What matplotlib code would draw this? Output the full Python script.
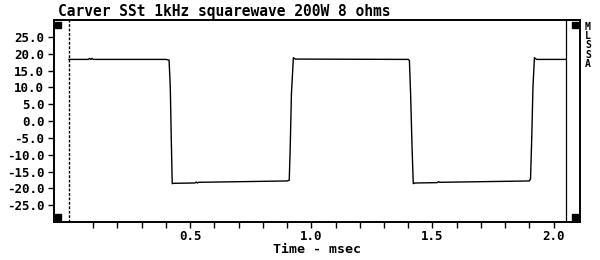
import matplotlib.pyplot as plt
from matplotlib.ticker import FormatStrFormatter

# waveform breakpoints (msec, volts)
t_ms = [0.000, 0.080, 0.085, 0.090, 0.095, 0.100, 0.400, 0.413, 0.418,
        0.422, 0.426, 0.432, 0.520, 0.525, 0.530, 0.535, 0.900, 0.909,
        0.913, 0.918, 0.926, 0.934, 1.400, 1.405, 1.410, 1.416, 1.421,
        1.428, 1.520, 1.525, 1.530, 1.900, 1.905, 1.910, 1.915, 1.921,
        1.930, 2.050]
volts = [18.3, 18.3, 18.6, 18.3, 18.6, 18.3, 18.3, 18.1, 10.0,
         -5.0, -18.6, -18.5, -18.4, -18.1, -18.4, -18.2, -17.8, -17.6,
         -8.0, 8.0, 18.8, 18.4, 18.3, 18.0, 8.0, -8.0, -18.6,
         -18.4, -18.3, -18.0, -18.2, -17.8, -17.2, -5.0, 10.0, 18.8,
         18.3, 18.3]

y_ticks = [-25, -20, -15, -10, -5, 0, 5, 10, 15, 20, 25]
x_ticks = [0.5, 1.0, 1.5, 2.0]
x_minor = [0.1, 0.2, 0.3, 0.4, 0.6, 0.7, 0.8, 0.9, 1.1, 1.2, 1.3, 1.4,
           1.6, 1.7, 1.8, 1.9]
cursor_start = 0.0
cursor_end = 2.05

fig = plt.figure(figsize=(6, 2.6), dpi=100)
ax = fig.add_axes([0.09, 0.146, 0.877, 0.777])

ax.plot(t_ms, volts, color='black', linewidth=1.0)
ax.axvline(cursor_start, color='black', linewidth=1.0, linestyle=(0, (2, 1.2)))
ax.axvline(cursor_end, color='black', linewidth=0.9)

ax.set_xlim(-0.062, 2.11)
ax.set_ylim(-30, 30)

ax.set_yticks(y_ticks)
ax.yaxis.set_major_formatter(FormatStrFormatter('%.1f'))
ax.set_xticks(x_ticks)
ax.set_xticks(x_minor, minor=True)
ax.xaxis.set_major_formatter(FormatStrFormatter('%.1f'))

mono = 'DejaVu Sans Mono'
ax.tick_params(axis='both', which='both', direction='out', length=4, width=1,
               colors='black')
ax.tick_params(axis='x', which='major', pad=2)
ax.tick_params(axis='y', pad=3)
for lab in ax.get_xticklabels() + ax.get_yticklabels():
    lab.set_fontfamily(mono)
    lab.set_fontweight('bold')
    lab.set_fontsize(9)

for s in ax.spines.values():
    s.set_linewidth(1.4)

ax.set_xlabel('Time - msec', fontfamily=mono, fontweight='bold', fontsize=9.5,
              labelpad=0)
fig.text(0.097, 0.955, 'Carver SSt 1kHz squarewave 200W 8 ohms',
         fontfamily=mono, fontweight='bold', fontsize=10.5, va='center')
fig.text(0.98, 0.915, 'M\nL\nS\nS\nA', fontfamily=mono, fontweight='bold',
         fontsize=7, va='top', ha='center', linespacing=0.9)

# corner markers
for cx, cy in [(0.007, 0.975), (0.007, 0.025), (0.99, 0.975), (0.99, 0.025)]:
    ax.plot(cx, cy, marker='s', markersize=4.5, color='black',
            transform=ax.transAxes, clip_on=False)

fig.savefig('out.png', dpi=100)
